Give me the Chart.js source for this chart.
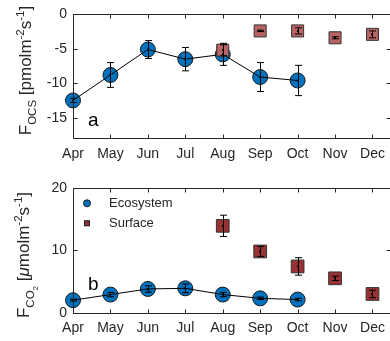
<!DOCTYPE html>
<html><head><meta charset="utf-8">
<script src="https://cdn.jsdelivr.net/npm/chart.js@4.4.0/dist/chart.umd.min.js"></script>
<style>
html,body{margin:0;padding:0;background:#fff;overflow:hidden;width:390px;height:341px;}
#wrap{position:relative;width:392px;height:341px;overflow:hidden;}
.box{position:absolute;left:0;width:392px;}
canvas{display:block;}
</style></head><body>
<div id="wrap">
<div class="box" style="top:0;height:170px"><canvas id="c1" width="392" height="170"></canvas></div>
<div class="box" style="top:170px;height:171px"><canvas id="c2" width="392" height="171"></canvas></div>
</div>
<script>
// ---- data ----
const months = ['Apr','May','Jun','Jul','Aug','Sep','Oct','Nov','Dec'];
const monthNums = [4,5,6,7,8,9,10,11,12];
const ocsEco     = [-12.5,-8.8,-5.1,-6.5,-5.8,-9.1,-9.6,null,null];
const ocsEcoErr  = [0.3,1.8,1.3,1.7,1.6,2.1,2.2,null,null];
const ocsSurf    = [null,null,null,null,-5.2,-2.4,-2.4,-3.4,-2.9];
const ocsSurfErr = [null,null,null,null,0.8,0.1,0.45,0.15,0.5];
const co2Eco     = [2.0,2.9,3.8,3.9,2.9,2.3,2.1,null,null];
const co2EcoErr  = [0.15,0.35,0.5,0.7,0.35,0.2,0.2,null,null];
const co2Surf    = [null,null,null,null,13.9,9.8,7.4,5.5,3.0];
const co2SurfErr = [null,null,null,null,1.7,0.8,1.4,0.35,0.6];
const ocsTicks = [-15,-10,-5,0];
const co2Ticks = [0,10,20];
const legendLabels = ['Ecosystem','Surface'];

const FONT = '"Liberation Sans", Arial, Helvetica, sans-serif';
const TXT = '#262626';
const BLUE = '#0072BD';

function pts(vals){ return monthNums.map((m,i)=>({x:m,y:vals[i]})).filter(p=>p.y!==null); }
function errs(vals, e){ return monthNums.map((m,i)=>e[i]).filter((v,i)=>vals[i]!==null); }

const errorBars = {
  id:'errorBars',
  afterDatasetsDraw(chart){
    const ctx = chart.ctx, xs = chart.scales.x, ys = chart.scales.y;
    ctx.save();
    ctx.strokeStyle = '#000'; ctx.lineWidth = 1;
    chart.data.datasets.forEach((ds,i)=>{
      if(!ds.errors) return;
      ds.data.forEach((p,j)=>{
        const e = ds.errors[j]; if(e==null) return;
        const x = Math.round(xs.getPixelForValue(p.x))+0.5;
        const y1 = ys.getPixelForValue(p.y+e), y2 = ys.getPixelForValue(p.y-e);
        ctx.beginPath();
        ctx.moveTo(x,y1); ctx.lineTo(x,y2);
        ctx.moveTo(x-3.5,y1); ctx.lineTo(x+3.5,y1);
        ctx.moveTo(x-3.5,y2); ctx.lineTo(x+3.5,y2);
        ctx.stroke();
        ctx.fillStyle='#000';
        ctx.fillRect(x-1.5, ys.getPixelForValue(p.y)-1, 2, 2);
      });
    });
    ctx.restore();
  }
};

const frame = {
  id:'frame',
  afterDraw(chart){
    const ctx = chart.ctx, a = chart.chartArea, xs = chart.scales.x, ys = chart.scales.y;
    const L = Math.round(a.left)+0.5, R = Math.round(a.right)-0.5, T = Math.round(a.top)+0.5, B = Math.round(a.bottom)+0.5;
    ctx.save();
    ctx.strokeStyle = '#262626'; ctx.lineWidth = 1;
    ctx.beginPath();
    ctx.moveTo(L,T); ctx.lineTo(R,T); ctx.lineTo(R,B); ctx.lineTo(L,B); ctx.closePath();
    const tl = 4;
    xs.ticks.forEach(t=>{
      const x = Math.round(xs.getPixelForValue(t.value))+0.5;
      ctx.moveTo(x,T); ctx.lineTo(x,T+tl);
      ctx.moveTo(x,B); ctx.lineTo(x,B-tl);
    });
    ys.ticks.forEach(t=>{
      const y = Math.round(ys.getPixelForValue(t.value))+0.5;
      ctx.moveTo(L,y); ctx.lineTo(L+tl,y);
      ctx.moveTo(R,y); ctx.lineTo(R-tl,y);
    });
    ctx.stroke();
    ctx.restore();
  }
};

function drawRich(ctx, baseX, centerY, segs){
  ctx.save();
  let total = 0;
  segs.forEach(s=>{ ctx.font = (s.it?'italic ':'')+s.size+'px '+FONT; s.w = ctx.measureText(s.t).width; total += s.w; });
  ctx.translate(baseX, centerY + total/2);
  ctx.rotate(-Math.PI/2);
  ctx.fillStyle = TXT; ctx.textBaseline = 'alphabetic'; ctx.textAlign = 'left';
  let cur = 0;
  segs.forEach(s=>{ ctx.font = (s.it?'italic ':'')+s.size+'px '+FONT; ctx.fillText(s.t, cur, s.dy||0); cur += s.w; });
  ctx.restore();
}

function annot(opts){
  return {
    id:'annot',
    afterDraw(chart){
      const ctx = chart.ctx;
      drawRich(ctx, opts.titleX, opts.titleY, opts.title);
      ctx.save();
      ctx.fillStyle = '#000';
      ctx.font = '19px '+FONT;
      ctx.textBaseline = 'alphabetic';
      ctx.fillText(opts.letter, opts.letterX, opts.letterY);
      if(opts.legend){
        const lg = opts.legend;
        ctx.font = '13px '+FONT; ctx.textBaseline='middle'; ctx.fillStyle = TXT;
        ctx.fillText(legendLabels[0], lg.tx, lg.y1);
        ctx.fillText(legendLabels[1], lg.tx, lg.y2);
        ctx.strokeStyle = '#1a1a1a'; ctx.lineWidth = 1;
        ctx.beginPath(); ctx.arc(lg.mx, lg.y1, 3.5, 0, Math.PI*2);
        ctx.fillStyle = BLUE; ctx.fill(); ctx.stroke();
        ctx.fillStyle = lg.sq; ctx.fillRect(lg.mx-2.5, lg.y2-2.5, 5, 5);
        ctx.strokeRect(lg.mx-2.5, lg.y2-2.5, 5, 5);
      }
      ctx.restore();
    }
  };
}

function makeChart(id, cfg){
  const eco = cfg.eco, surf = cfg.surf;
  return new Chart(document.getElementById(id), {
    type:'scatter',
    data:{ datasets:[
      { label:'EcosystemLine', data:pts(eco), showLine:true, borderColor:'#000', borderWidth:1,
        pointRadius:0, pointHoverRadius:0, order:2, clip:false },
      { label:'Ecosystem', data:pts(eco), errors:errs(eco,cfg.ecoErr), showLine:false,
        pointStyle:'circle', pointRadius:7.5, pointHoverRadius:7.5, backgroundColor:BLUE,
        borderColor:'#1a1a1a', borderWidth:1, order:3, clip:false },
      { label:'Surface', data:pts(surf), errors:errs(surf,cfg.surfErr), showLine:false,
        pointStyle:'rect', pointRadius:cfg.sqR, pointHoverRadius:cfg.sqR, backgroundColor:cfg.sqColor,
        borderColor:'#333', borderWidth:1, order:1, clip:false }
    ]},
    options:{
      responsive:false, maintainAspectRatio:false, animation:false, events:[],
      layout:{ autoPadding:false, padding:{ top:cfg.top, right:0.8, left:0, bottom:0 } },
      plugins:{ legend:{display:false}, tooltip:{enabled:false} },
      scales:{
        x:{ type:'linear', min:4, max:12.5,
          afterBuildTicks:s=>{ s.ticks = monthNums.map(v=>({value:v})); },
          afterFit:s=>{ s.height = cfg.xH; s.paddingLeft = 0; s.paddingRight = 0; },
          grid:{display:false, drawTicks:true, tickLength:cfg.xPad}, border:{display:false},
          ticks:{ autoSkip:false, maxRotation:0, padding:0, color:TXT, font:{family:FONT,size:14},
            callback:v=>months[monthNums.indexOf(v)] } },
        y:{ type:'linear', min:cfg.ymin, max:cfg.ymax,
          afterBuildTicks:s=>{ s.ticks = cfg.yTicks.map(v=>({value:v})); },
          afterFit:s=>{ s.width = 73; },
          grid:{display:false, drawTicks:false}, border:{display:false},
          ticks:{ padding:6, color:TXT, font:{family:FONT,size:14}, callback:v=>String(v) } }
      }
    },
    plugins:[errorBars, frame, annot(cfg.annot)]
  });
}

makeChart('c1', {
  eco:ocsEco, ecoErr:ocsEcoErr, surf:ocsSurf, surfErr:ocsSurfErr,
  sqR:8.5, sqColor:'#b96464', top:13.3, xH:31.7, xPad:7, ymin:-18, ymax:0, yTicks:ocsTicks,
  annot:{ titleX:30.5, titleY:70.5, letter:'a', letterX:88, letterY:126,
    title:[{t:'F',size:17},{t:'OCS',size:11.5,dy:5},{t:' [pmolm',size:17},{t:'-2',size:11.5,dy:-7},
           {t:'s',size:17},{t:'-1',size:11.5,dy:-7},{t:']',size:17}] }
});
makeChart('c2', {
  eco:co2Eco, ecoErr:co2EcoErr, surf:co2Surf, surfErr:co2SurfErr,
  sqR:9, sqColor:'#993333', top:17.7, xH:28.3, xPad:7, ymin:0, ymax:20, yTicks:co2Ticks,
  annot:{ titleX:29, titleY:85, letter:'b', letterX:88, letterY:120,
    title:[{t:'F',size:17},{t:'CO',size:11.5,dy:5},{t:'2',size:8,dy:9},{t:' [',size:17},{t:'\u03bc',size:17,it:true},{t:'molm',size:17},
           {t:'-2',size:11.5,dy:-7},{t:'s',size:17},{t:'-1',size:11.5,dy:-7},{t:']',size:17}],
    legend:{ mx:87, tx:109, y1:33.3, y2:53.3, sq:'#993333' } }
});
</script>
</body></html>
